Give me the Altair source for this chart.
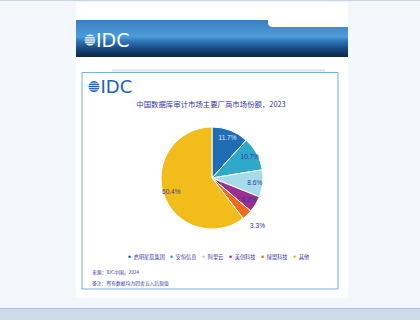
import math
import altair as alt
import pandas as pd

# ---- data ----
vendors = ["启明星辰集团", "安恒信息", "阿里云", "美创科技", "绿盟科技", "其他"]
shares = [11.7, 10.7, 8.6, 5.2, 3.3, 60.4]
colors = ["#1f6db5", "#2ea9c9", "#a6dbe9", "#9a2f8f", "#f26a1b", "#f2bc1a"]
title_text = "中国数据库审计市场主要厂商市场份额，2023"
source_text = "来源：IDC中国，2024"
note_text = "备注：所有数据均为四舍五入后取值"
logo_text = "IDC"

TXT = "#3535a5"
CJK = "Noto Sans CJK SC"
LOGO_BLUE = "#2063b0"

pie_df = pd.DataFrame({"vendor": vendors, "share": shares, "idx": list(range(len(vendors)))})
pie_df["label"] = [f"{s}%" for s in shares]

one = pd.DataFrame({"k": [0]})


def rect(x, x2, y, y2, **kw):
    return alt.Chart(one).mark_rect(**kw).encode(
        x=alt.value(x), x2=alt.value(x2), y=alt.value(y), y2=alt.value(y2))


def rule(x, x2, y, color, sw):
    return alt.Chart(one).mark_rule(color=color, strokeWidth=sw).encode(
        x=alt.value(x), x2=alt.value(x2), y=alt.value(y))


def text(x, y, s, **kw):
    return alt.Chart(one).mark_text(text=s, **kw).encode(x=alt.value(x), y=alt.value(y))


def logo(cx, cy, d, fg, gap, tx, ty, size):
    r = d / 2
    layers = [alt.Chart(one).mark_point(shape="circle", filled=True, size=d * d,
                                        color=fg, opacity=1).encode(
        x=alt.value(cx), y=alt.value(cy))]
    for dy in (-3.3, -1.1, 1.1, 3.3):
        hw = math.sqrt(max(r * r - dy * dy, 0)) + 0.6
        layers.append(rule(cx - hw, cx + hw, cy + dy, gap, 0.8))
    layers.append(text(tx, ty, logo_text, font="DejaVu Sans", fontSize=size,
                       color=fg, align="left", baseline="alphabetic"))
    return layers


banner_grad = alt.Gradient(
    gradient="linear", x1=0, x2=0, y1=0, y2=1,
    stops=[alt.GradientStop(color="#3a7fc0", offset=0),
           alt.GradientStop(color="#4d9cd8", offset=0.45),
           alt.GradientStop(color="#2d74b8", offset=0.58),
           alt.GradientStop(color="#17497f", offset=0.78),
           alt.GradientStop(color="#0b2546", offset=1)])

deco = [
    rule(0, 420, 0.5, "#c8d6e8", 1),
    rect(76, 348, 2, 298, fill="white"),
    rect(76, 348, 20, 57, fill=banner_grad),
    rect(268, 348, 19, 27, fill="white", cornerRadiusBottomLeft=6),
    rule(112, 325, 70.5, "#e2e2e2", 2),
    rect(82, 72.5, 338, 289, fill="white", stroke="#78b0de", strokeWidth=1)
    if False else rect(82, 338, 72.5, 289, fill="white", stroke="#78b0de", strokeWidth=1),
    rect(0, 420, 308, 320, fill="#cddaea"),
    rule(0, 420, 308.5, "#a9c2de", 1),
]
deco += logo(90, 40, 11, "white", "#2a6aa8", 96, 47, 19)
deco += logo(94, 86.5, 11, LOGO_BLUE, "white", 100.5, 93, 18)

title = text(211, 105, title_text, font=CJK, fontSize=7.4, color=TXT,
             align="center", baseline="middle")
src = text(92, 273, source_text, font=CJK, fontSize=4.8, color=TXT,
           align="left", baseline="middle")
note = text(92, 284, note_text, font=CJK, fontSize=4.8, color=TXT,
            align="left", baseline="middle")

CX, CY = 212, 178
base = alt.Chart(pie_df)
arcs = base.mark_arc(outerRadius=51, stroke="white", strokeWidth=1).encode(
    theta=alt.Theta("share:Q", stack=True),
    order=alt.Order("idx:Q"),
    color=alt.Color("vendor:N", scale=alt.Scale(domain=vendors, range=colors),
                    legend=alt.Legend(
                        title=None, orient="none", legendX=127, legendY=254,
                        direction="horizontal", columns=6, symbolType="circle",
                        symbolSize=7, symbolStrokeWidth=0, labelFontSize=5.2,
                        labelFont=CJK, labelColor=TXT, labelOffset=1.5,
                        columnPadding=4, padding=0, labelLimit=0)),
    x=alt.value(CX), y=alt.value(CY),
)
inner_labels = base.mark_text(radius=43, fontSize=6.5, font="Liberation Sans").encode(
    theta=alt.Theta("share:Q", stack=True),
    order=alt.Order("idx:Q"),
    text=alt.condition("datum.share >= 4", "label:N", alt.value("")),
    color=alt.condition("datum.idx == 0", alt.value("#e4e8ff"), alt.value(TXT)),
    x=alt.value(CX), y=alt.value(CY),
)
outer_labels = base.mark_text(radius=66, fontSize=6.5, font="Liberation Sans",
                              color=TXT).encode(
    theta=alt.Theta("share:Q", stack=True),
    order=alt.Order("idx:Q"),
    text=alt.condition("datum.share < 4", "label:N", alt.value("")),
    x=alt.value(CX), y=alt.value(CY),
)

chart = alt.layer(*deco, title, arcs, inner_labels, outer_labels, src, note).properties(
    width=420, height=320, padding=0,
    autosize=alt.AutoSizeParams(type="none"),
    background="#f3f6fb",
).configure_view(stroke=None)

chart.save("out.html", embed_options={"renderer": "svg", "actions": False})
